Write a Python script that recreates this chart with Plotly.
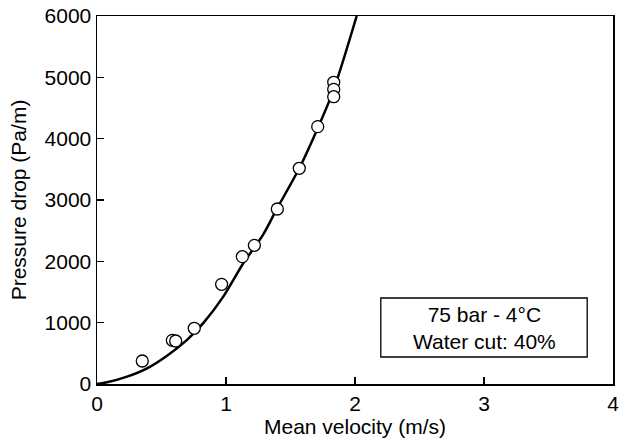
import plotly.graph_objects as go

# Measured data points
vel_pts = [0.351, 0.584, 0.610, 0.754, 0.966, 1.127, 1.220, 1.398, 1.568, 1.711, 1.835, 1.835, 1.835]
dp_pts = [375, 712, 701, 908, 1625, 2076, 2261, 2853, 3517, 4196, 4919, 4804, 4684]

# Model curve
vel_curve = [0, 0.078, 0.233, 0.388, 0.543, 0.698, 0.827, 0.979, 1.134, 1.289, 1.393, 1.568, 1.716, 1.835, 2.013]
dp_curve = [0, 28, 120, 256, 462, 720, 1000, 1424, 1968, 2440, 2850, 3517, 4196, 4800, 6000]

x_ticks = [0, 1, 2, 3, 4]
y_ticks = [0, 1000, 2000, 3000, 4000, 5000, 6000]

font_family = "Liberation Sans, Arial, sans-serif"

fig = go.Figure()
fig.add_trace(go.Scatter(x=vel_curve, y=dp_curve, mode="lines",
                         line=dict(color="black", width=2.5, shape="spline", smoothing=0.8),
                         showlegend=False, hoverinfo="skip"))
fig.add_trace(go.Scatter(x=vel_pts, y=dp_pts, mode="markers",
                         marker=dict(symbol="circle", size=12, color="white",
                                     line=dict(color="black", width=1.3)),
                         showlegend=False))

fig.add_shape(type="rect", xref="x", yref="y", x0=2.2, x1=3.8, y0=440, y1=1402,
              line=dict(color="black", width=1.3), fillcolor="white")
fig.add_annotation(x=3.0, y=921, xref="x", yref="y", showarrow=False,
                   text="75 bar - 4°C<br>Water cut: 40%",
                   font=dict(family=font_family, size=21, color="black"),
                   align="center")

fig.update_layout(
    width=636, height=443,
    margin=dict(l=97, r=23, t=16, b=59),
    paper_bgcolor="white", plot_bgcolor="white",
    font=dict(family=font_family, size=21, color="black"),
    hovermode=False,
)
fig.update_xaxes(range=[0, 4], tickvals=x_ticks, ticks="inside", ticklen=7,
                 tickwidth=1.3, tickcolor="black",
                 showline=True, linecolor="black", linewidth=1.5, mirror=True,
                 showgrid=False, zeroline=False, automargin=False,
                 ticklabeloverflow="allow",
                 title=dict(text="Mean velocity (m/s)", standoff=2,
                            font=dict(size=21)))
fig.update_yaxes(range=[0, 6000], tickvals=y_ticks, ticks="inside", ticklen=7,
                 tickwidth=1.3, tickcolor="black",
                 showline=True, linecolor="black", linewidth=1.5, mirror=True,
                 showgrid=False, zeroline=False, automargin=False,
                 ticklabeloverflow="allow",
                 title=dict(text="Pressure drop (Pa/m)", standoff=12,
                            font=dict(size=21)))

fig.write_html("out.html",
               config={"displayModeBar": False, "staticPlot": True},
               post_script="document.body.style.margin='0px';document.body.style.overflow='hidden';")
